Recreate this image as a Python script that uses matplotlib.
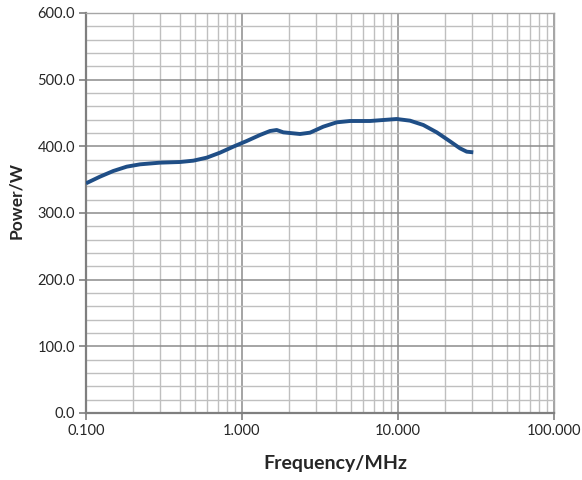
import matplotlib
matplotlib.use("Agg")
import matplotlib.pyplot as plt
from matplotlib.ticker import LogLocator, MultipleLocator, FixedLocator, NullFormatter

freq_mhz = [0.100, 0.1229, 0.1496, 0.1824, 0.2219, 0.2979, 0.4006, 0.4877, 0.594,
            0.7229, 0.8794, 1.072, 1.304, 1.512, 1.669, 1.839, 2.354, 2.729, 3.320,
            4.046, 4.923, 6.614, 8.050, 9.81, 11.94, 14.53, 17.71, 21.54, 24.97,
            27.57, 30.38]
power_w = [344.5, 354.5, 363.0, 369.5, 373.0, 375.5, 376.5, 378.5, 383.0,
           390.5, 399.5, 408.0, 417.0, 423.0, 424.5, 421.0, 418.5, 420.5, 429.5,
           436.0, 438.0, 438.0, 439.5, 441.0, 438.5, 432.0, 421.0, 407.5, 397.0,
           392.0, 391.0]

x_ticks = [0.1, 1, 10, 100]
x_tick_labels = ["0.100", "1.000", "10.000", "100.000"]
y_ticks = [0, 100, 200, 300, 400, 500, 600]
y_tick_labels = ["0.0", "100.0", "200.0", "300.0", "400.0", "500.0", "600.0"]

plt.rcParams['font.family'] = ['Lato', 'DejaVu Sans']

fig = plt.figure(figsize=(5.82, 4.80), dpi=100)
ax = fig.add_axes([86/582, 1-413/480, (554-86)/582, 400/480])

ax.set_xscale('log')
ax.set_xlim(0.1, 100)
ax.set_ylim(0, 600)

ax.xaxis.set_major_locator(FixedLocator(x_ticks))
ax.set_xticklabels(x_tick_labels)
ax.xaxis.set_minor_locator(LogLocator(base=10, subs=range(2, 10)))
ax.xaxis.set_minor_formatter(NullFormatter())
ax.yaxis.set_major_locator(FixedLocator(y_ticks))
ax.set_yticklabels(y_tick_labels)
ax.yaxis.set_minor_locator(MultipleLocator(20))

ax.grid(which='major', color='#8c8c8c', linewidth=1.1)
ax.grid(which='minor', color='#bfbfbf', linewidth=1.0)
ax.set_axisbelow(True)

for s in ['top', 'right']:
    ax.spines[s].set_color('#a6a6a6')
    ax.spines[s].set_linewidth(1.0)
for s in ['left', 'bottom']:
    ax.spines[s].set_color('#7f7f7f')
    ax.spines[s].set_linewidth(1.6)

ax.tick_params(which='major', direction='out', length=5, width=1.2, color='#7f7f7f',
               labelsize=10.5, labelcolor='#262626', pad=3)
ax.tick_params(which='minor', length=0)

ax.plot(freq_mhz, power_w, color='#1f4e86', linewidth=2.8, solid_joinstyle='round',
        solid_capstyle='butt', zorder=3)

ax.set_xlabel('Frequency/MHz', fontsize=14, fontweight='bold', color='#262626')
ax.set_ylabel('Power/W', fontsize=12.5, fontweight='bold', color='#262626')
ax.xaxis.set_label_coords(0.532, -0.105)
ax.yaxis.set_label_coords(-0.133, 0.532)

fig.savefig('out.png', dpi=100)
